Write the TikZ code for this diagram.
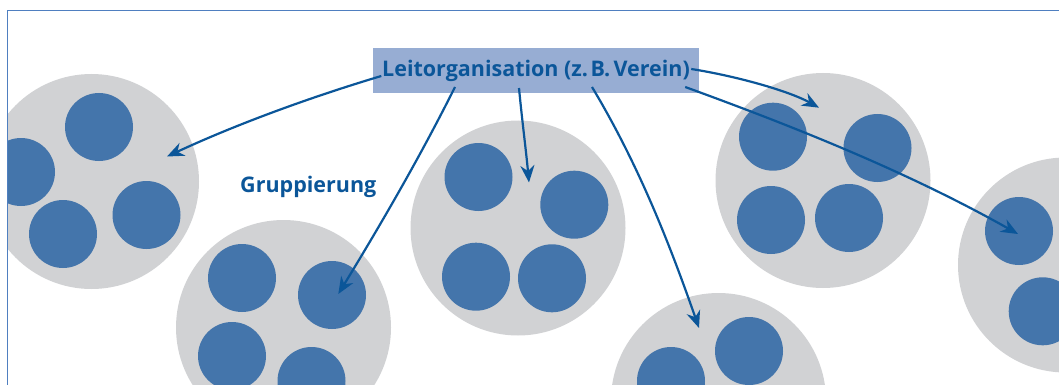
\documentclass[tikz,border=0pt]{standalone}
\usepackage{fontspec}
\setmainfont{Open Sans}
\usetikzlibrary{arrows.meta,calc}
\definecolor{grp}{HTML}{D1D2D4}
\definecolor{mem}{HTML}{4475AB}
\definecolor{arr}{HTML}{0B5699}
\definecolor{boxc}{HTML}{97ADD3}
\definecolor{frm}{HTML}{4F7FC0}
\begin{document}
\begin{tikzpicture}[x=1pt,y=-1pt,
  group/.style={fill=grp},
  member/.style={fill=mem},
  link/.style={draw=arr, line width=2.2pt, -{Stealth[length=17pt,width=14pt,inset=5.5pt]}},
  lbl/.style={text=arr, font=\bfseries\fontsize{21.5}{24}\selectfont, inner sep=0pt}]
\useasboundingbox (0,0) rectangle (1059,385);
\begin{scope}
\clip (7,10) rectangle (1059,385);
% group 1
\fill[group] (91.5,181.5) circle (107.5);
\fill[member] (99,127) circle (34);
\fill[member] (21,172) circle (34);
\fill[member] (146.5,215) circle (34);
\fill[member] (63,234) circle (34);
% group 2
\fill[group] (283.5,327.5) circle (107.5);
\fill[member] (242,278) circle (34);
\fill[member] (332,295) circle (34);
\fill[member] (232,356) circle (34);
\fill[member] (311.5,381) circle (34);
% group 3
\fill[group] (518,228) circle (107.5);
\fill[member] (478.5,177) circle (34);
\fill[member] (574.3,204.7) circle (34);
\fill[member] (476,276.7) circle (34);
\fill[member] (552,278.3) circle (34);
% group 4
\fill[group] (823,180.5) circle (107.5);
\fill[member] (773,136.7) circle (34);
\fill[member] (877.5,148) circle (34);
\fill[member] (771,220) circle (34);
\fill[member] (849,218) circle (34);
% group 5
\fill[group] (1065.5,265) circle (107.5);
\fill[member] (1019,231) circle (34);
\fill[member] (1042.7,311.3) circle (34);
% group 6
\fill[group] (718.5,400.5) circle (107.5);
\fill[member] (749,351) circle (34);
\fill[member] (671,381) circle (34);
\end{scope}
\draw[frm, line width=1pt] (7.5,10.5) rectangle (1080,400);

\node[fill=boxc, minimum width=326pt, minimum height=45.6pt, inner sep=0pt, text=arr,
      font=\bfseries\fontsize{21.5}{24}\selectfont] (lead) at (536,70.5)
      {Leitorganisation (z.\hspace{0.12em}B.\hspace{0.15em}Verein)};
\node[lbl, anchor=base west] (grpname) at (240,192.7) {Gruppierung};

% start points on the lead node
\coordinate (s1) at ($(lead.west)+(8.5,5.5)$);
\coordinate (s2) at ($(lead.south)+(-81,-6.5)$);
\coordinate (s3) at ($(lead.south)+(-17,-5.5)$);
\coordinate (s4) at ($(lead.south)+(56,-6.5)$);
\coordinate (s5) at ($(lead.east)+(-8,-1.5)$);
\coordinate (s6) at ($(lead.east)+(-14,16.5)$);
% targets
\coordinate (t1) at (167,156.5);
\coordinate (t2) at (338.3,294);
\coordinate (t3) at (529,182.5);
\coordinate (t4) at (699,328);
\coordinate (t5) at (819,107.7);
\coordinate (t6) at (1018,234);

\draw[link] (s1) .. controls (311,97) and (237,124) .. (t1);
\draw[link] (s2) .. controls (420,157) and (381,224) .. (t2);
\draw[link] (s3) .. controls (522,120) and (526,150) .. (t3);
\draw[link] (s4) .. controls (640,167) and (671,248) .. (t4);
\draw[link] (s5) .. controls (736,76) and (789,91) .. (t5);
\draw[link] (s6) .. controls (795,127) and (908,172) .. (t6);
\end{tikzpicture}
\end{document}
